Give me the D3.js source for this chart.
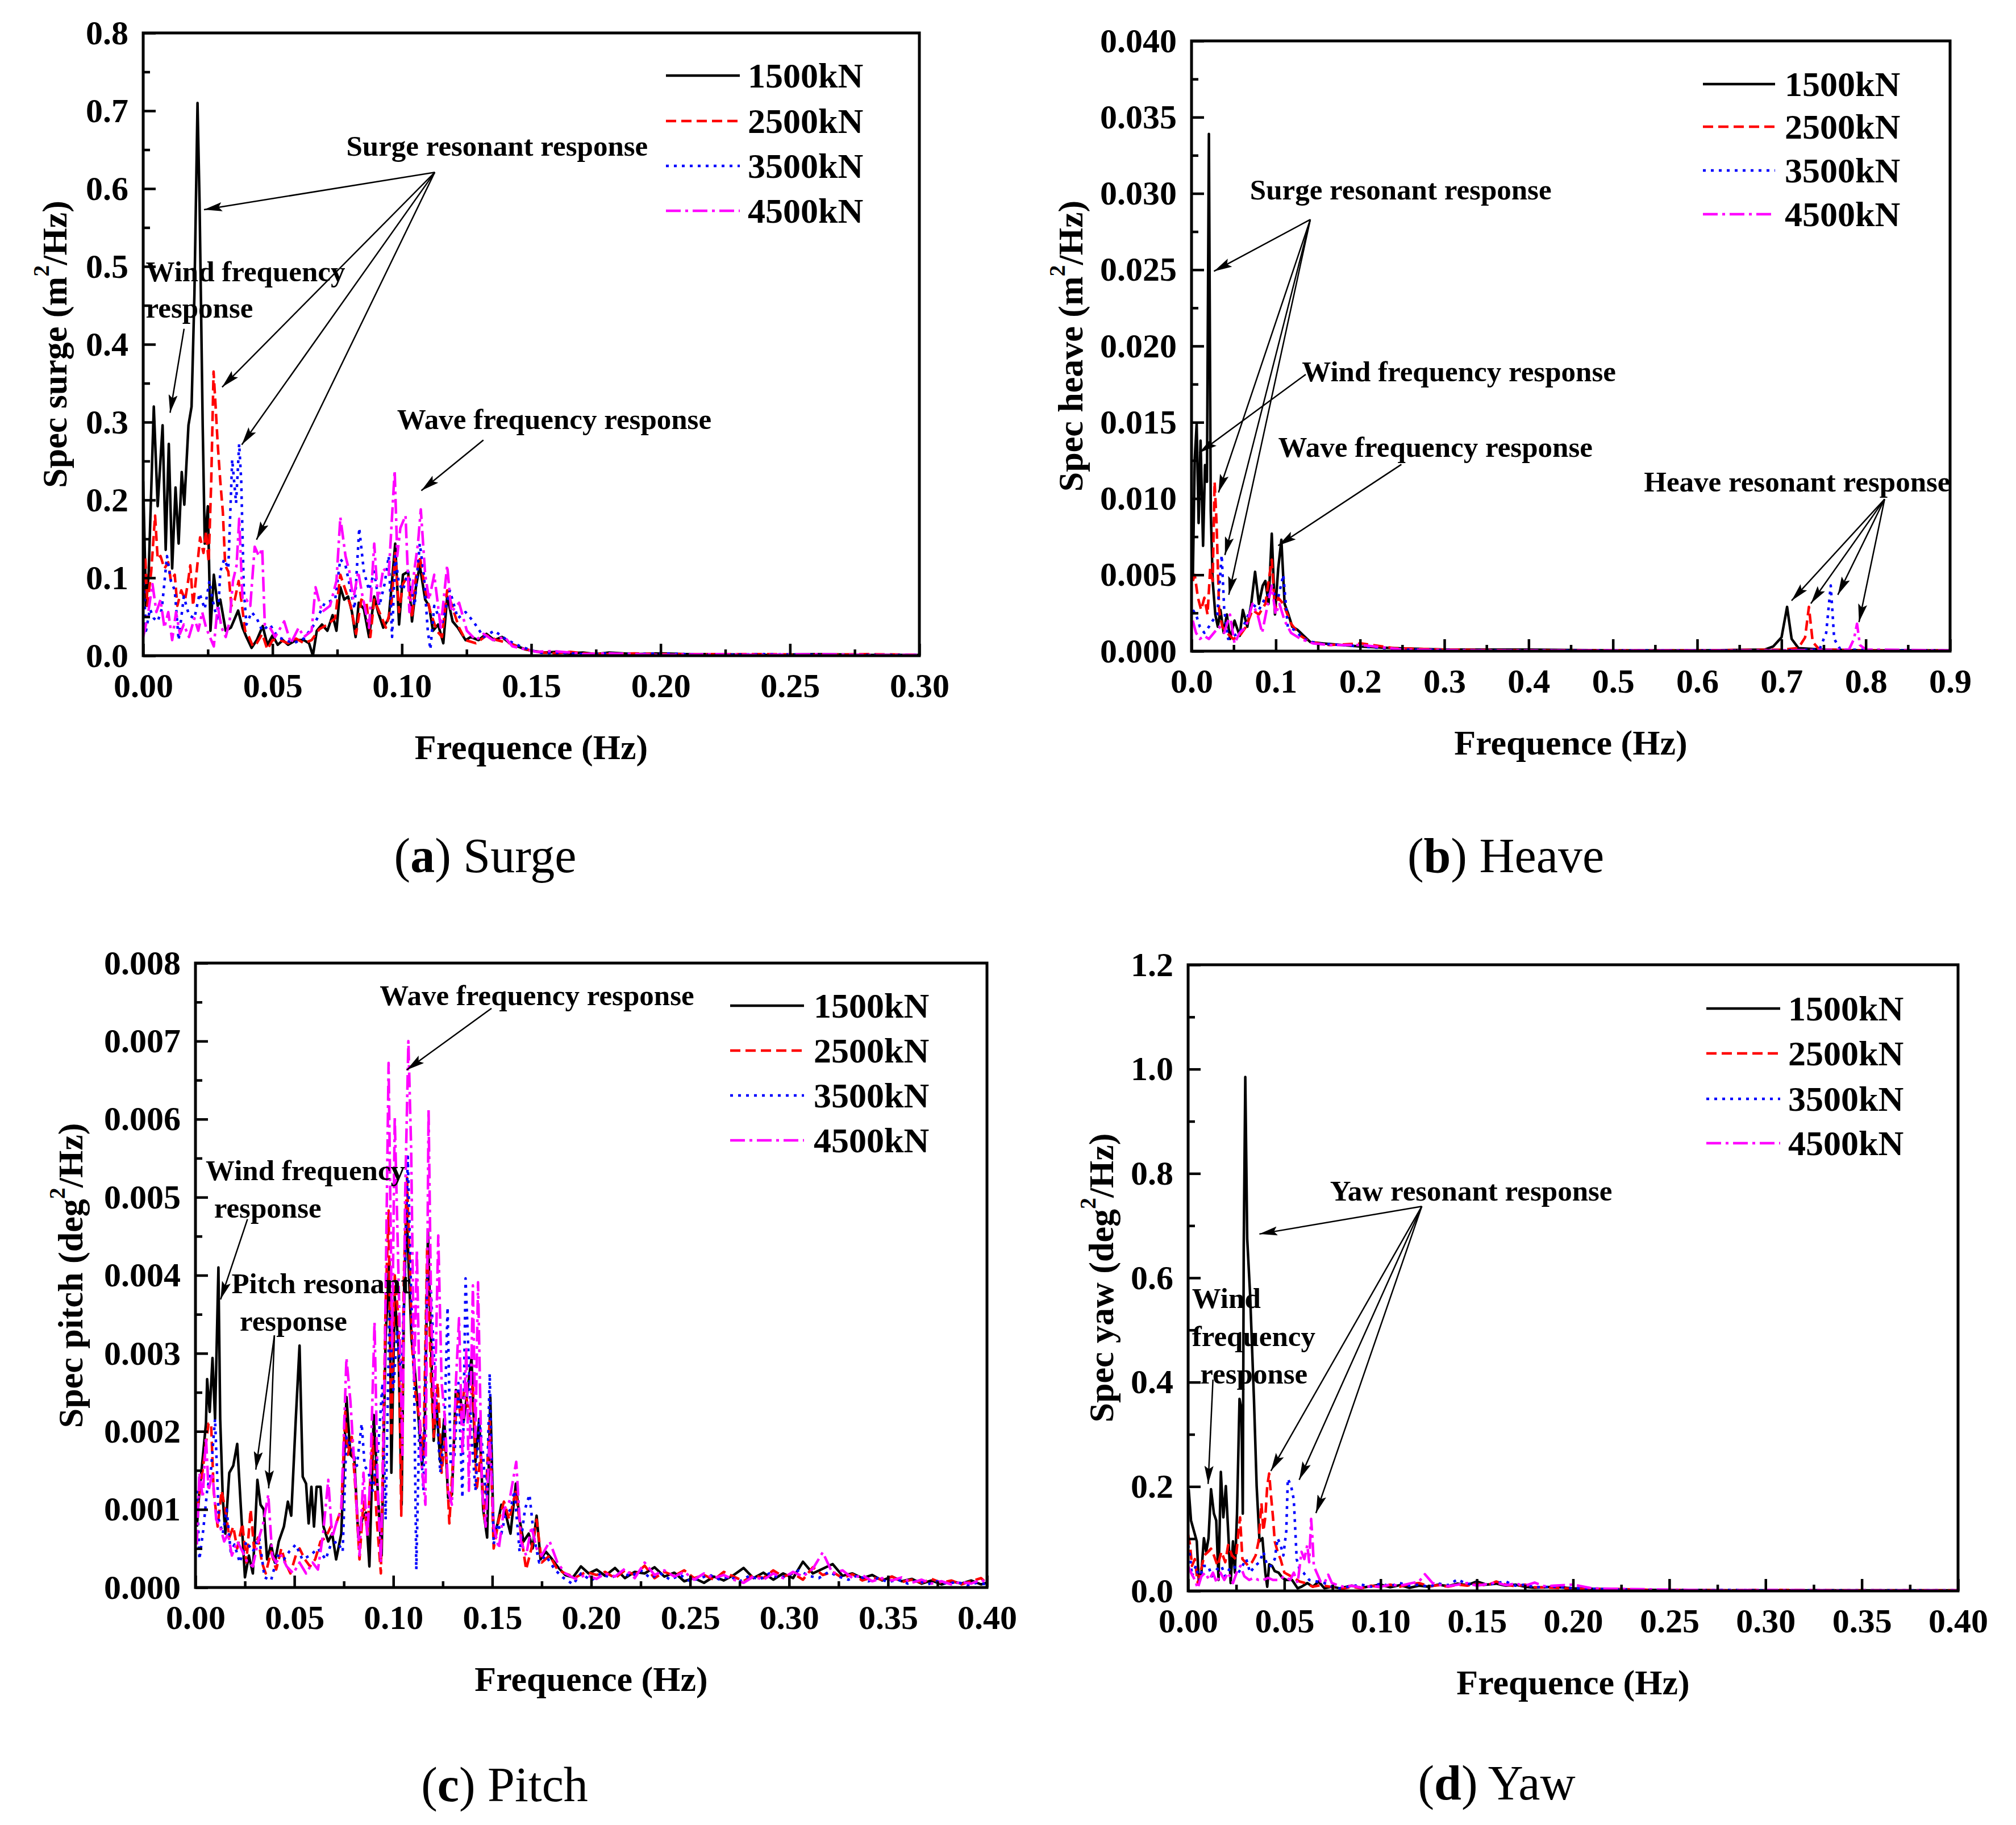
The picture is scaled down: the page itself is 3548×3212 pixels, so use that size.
<!DOCTYPE html>
<html>
<head>
<meta charset="utf-8">
<script src="https://cdn.jsdelivr.net/npm/d3@7"></script>
<style>
html,body{margin:0;padding:0;background:#fff;}
svg{display:block;}
</style>
</head>
<body>
<svg id="chart" width="3548" height="3212"></svg>
<script>
// ---------------- DATA ----------------
const loadLabels = ['1500kN','2500kN','3500kN','4500kN'];

const surgeXTicks = [0,0.05,0.10,0.15,0.20,0.25,0.30];
const surgeYTicks = [0,0.1,0.2,0.3,0.4,0.5,0.6,0.7,0.8];
const heaveXTicks = [0,0.1,0.2,0.3,0.4,0.5,0.6,0.7,0.8,0.9];
const heaveYTicks = [0,0.005,0.010,0.015,0.020,0.025,0.030,0.035,0.040];
const pitchXTicks = [0,0.05,0.10,0.15,0.20,0.25,0.30,0.35,0.40];
const pitchYTicks = [0,0.001,0.002,0.003,0.004,0.005,0.006,0.007,0.008];
const yawXTicks = [0,0.05,0.10,0.15,0.20,0.25,0.30,0.35,0.40];
const yawYTicks = [0,0.2,0.4,0.6,0.8,1.0,1.2];

// Surge spectra [Hz, m^2/Hz]
const surge1500 = [[0,0.224],[0.0011,0.064],[0.0021,0.104],[0.0041,0.32],[0.0056,0.192],[0.0075,0.296],[0.0087,0.136],[0.0099,0.272],[0.0112,0.112],[0.0125,0.216],[0.0137,0.144],[0.0149,0.236],[0.0159,0.194],[0.0175,0.296],[0.0187,0.32],[0.0198,0.464],[0.021,0.71],[0.0218,0.58],[0.023,0.296],[0.0238,0.144],[0.025,0.192],[0.026,0.032],[0.0273,0.104],[0.0288,0.064],[0.0298,0.072],[0.0319,0.032],[0.0339,0.036],[0.0367,0.058],[0.0384,0.036],[0.0399,0.024],[0.0419,0.01],[0.0439,0.02],[0.0462,0.038],[0.048,0.014],[0.05,0.026],[0.052,0.014],[0.054,0.02],[0.056,0.014],[0.0591,0.02],[0.0621,0.02],[0.0641,0.016],[0.0656,0.0],[0.0671,0.032],[0.0691,0.04],[0.0712,0.032],[0.0732,0.052],[0.0747,0.032],[0.0762,0.088],[0.0777,0.072],[0.0792,0.076],[0.0807,0.056],[0.0821,0.024],[0.0833,0.068],[0.0853,0.06],[0.0873,0.024],[0.0893,0.076],[0.0908,0.056],[0.0928,0.036],[0.0949,0.048],[0.0964,0.104],[0.0974,0.144],[0.0989,0.04],[0.1004,0.104],[0.1024,0.108],[0.1039,0.044],[0.1054,0.088],[0.1069,0.116],[0.109,0.072],[0.1105,0.064],[0.112,0.032],[0.114,0.04],[0.116,0.016],[0.1175,0.076],[0.1196,0.044],[0.1216,0.036],[0.1246,0.02],[0.1266,0.024],[0.1296,0.02],[0.1327,0.028],[0.1357,0.02],[0.1387,0.024],[0.1417,0.016],[0.1447,0.012],[0.1478,0.008],[0.1508,0.006],[0.1548,0.004],[0.16,0.005],[0.165,0.003],[0.17,0.004],[0.175,0.002],[0.18,0.004],[0.19,0.002],[0.2,0.003],[0.21,0.002],[0.22,0.002],[0.24,0.001],[0.26,0.002],[0.28,0.001],[0.3,0.001]];
const surge2500 = [[0,0.072],[0.0008,0.128],[0.0016,0.064],[0.0031,0.108],[0.0046,0.18],[0.0056,0.124],[0.0067,0.128],[0.0082,0.112],[0.0097,0.12],[0.0107,0.096],[0.0122,0.104],[0.0132,0.064],[0.0147,0.084],[0.0162,0.072],[0.0172,0.092],[0.0182,0.116],[0.0193,0.064],[0.0208,0.112],[0.022,0.152],[0.0233,0.132],[0.0243,0.16],[0.0253,0.12],[0.0263,0.224],[0.0272,0.365],[0.028,0.32],[0.0288,0.272],[0.0298,0.224],[0.0308,0.184],[0.0317,0.116],[0.0329,0.108],[0.0341,0.064],[0.0354,0.072],[0.0369,0.096],[0.0379,0.072],[0.0394,0.032],[0.0409,0.024],[0.0424,0.012],[0.0439,0.016],[0.046,0.028],[0.048,0.008],[0.05,0.02],[0.053,0.02],[0.056,0.016],[0.0591,0.022],[0.0621,0.016],[0.0651,0.02],[0.0681,0.034],[0.0712,0.04],[0.0742,0.048],[0.0762,0.104],[0.0782,0.084],[0.0802,0.064],[0.0823,0.028],[0.0843,0.072],[0.0863,0.068],[0.0878,0.024],[0.0893,0.072],[0.0913,0.056],[0.0938,0.036],[0.0959,0.064],[0.0974,0.132],[0.0989,0.056],[0.1004,0.092],[0.1024,0.104],[0.1039,0.048],[0.1054,0.1],[0.1069,0.128],[0.109,0.084],[0.111,0.056],[0.1135,0.032],[0.1155,0.024],[0.1175,0.084],[0.1201,0.056],[0.1221,0.036],[0.1246,0.02],[0.1286,0.016],[0.1327,0.026],[0.1367,0.02],[0.1417,0.016],[0.1458,0.01],[0.1508,0.006],[0.155,0.004],[0.16,0.003],[0.165,0.005],[0.17,0.003],[0.18,0.002],[0.19,0.003],[0.2,0.002],[0.22,0.002],[0.24,0.002],[0.26,0.001],[0.28,0.002],[0.3,0.001]];
const surge3500 = [[0,0.104],[0.0011,0.032],[0.0026,0.06],[0.0041,0.048],[0.0056,0.044],[0.0072,0.06],[0.0092,0.128],[0.0107,0.096],[0.0122,0.084],[0.0137,0.02],[0.0157,0.076],[0.0177,0.052],[0.0198,0.048],[0.0218,0.08],[0.0238,0.06],[0.0256,0.096],[0.0268,0.072],[0.0288,0.044],[0.0298,0.108],[0.0313,0.124],[0.0329,0.112],[0.0344,0.252],[0.0359,0.196],[0.0371,0.272],[0.0379,0.224],[0.0389,0.084],[0.0399,0.04],[0.0419,0.056],[0.0439,0.048],[0.046,0.032],[0.049,0.04],[0.052,0.024],[0.055,0.02],[0.0581,0.016],[0.0621,0.022],[0.0661,0.04],[0.0702,0.068],[0.0742,0.072],[0.0762,0.124],[0.0782,0.116],[0.0802,0.084],[0.0817,0.06],[0.0835,0.164],[0.0853,0.108],[0.0873,0.084],[0.0893,0.108],[0.0913,0.064],[0.0933,0.092],[0.0949,0.128],[0.0962,0.024],[0.0974,0.128],[0.0989,0.092],[0.1004,0.084],[0.1024,0.108],[0.1049,0.064],[0.1069,0.144],[0.1085,0.104],[0.11,0.032],[0.111,0.008],[0.1125,0.064],[0.1155,0.04],[0.1185,0.084],[0.1216,0.048],[0.1246,0.056],[0.1276,0.044],[0.1316,0.024],[0.1357,0.032],[0.1407,0.02],[0.1458,0.012],[0.1508,0.006],[0.155,0.003],[0.16,0.004],[0.17,0.002],[0.18,0.003],[0.19,0.002],[0.2,0.003],[0.22,0.001],[0.24,0.002],[0.26,0.001],[0.28,0.001],[0.3,0.001]];
const surge4500 = [[0,0.024],[0.0016,0.048],[0.0036,0.092],[0.0051,0.056],[0.0067,0.072],[0.0082,0.036],[0.0097,0.056],[0.0112,0.02],[0.0127,0.056],[0.0142,0.028],[0.0157,0.04],[0.0177,0.024],[0.0198,0.048],[0.0213,0.032],[0.0228,0.056],[0.0243,0.036],[0.0258,0.024],[0.0273,0.012],[0.0288,0.064],[0.0303,0.036],[0.0319,0.024],[0.0334,0.044],[0.0347,0.096],[0.0361,0.116],[0.0371,0.176],[0.0384,0.072],[0.0399,0.072],[0.0414,0.064],[0.0431,0.14],[0.0447,0.128],[0.046,0.138],[0.047,0.04],[0.049,0.036],[0.051,0.024],[0.0545,0.044],[0.0571,0.016],[0.0601,0.036],[0.0621,0.024],[0.0651,0.032],[0.0666,0.088],[0.0691,0.056],[0.0722,0.064],[0.0747,0.096],[0.0762,0.178],[0.0782,0.128],[0.0797,0.108],[0.0812,0.072],[0.0831,0.108],[0.0848,0.076],[0.0873,0.036],[0.0893,0.144],[0.0908,0.068],[0.0928,0.112],[0.0949,0.104],[0.0972,0.238],[0.0982,0.128],[0.0994,0.164],[0.1014,0.18],[0.1029,0.056],[0.1049,0.112],[0.1062,0.144],[0.1073,0.188],[0.109,0.104],[0.1105,0.072],[0.1125,0.104],[0.115,0.036],[0.1175,0.116],[0.1191,0.056],[0.1221,0.068],[0.1251,0.032],[0.1286,0.02],[0.1316,0.028],[0.1352,0.02],[0.1397,0.024],[0.1427,0.012],[0.1478,0.008],[0.152,0.005],[0.158,0.006],[0.165,0.004],[0.17,0.002],[0.18,0.003],[0.19,0.002],[0.2,0.001],[0.22,0.002],[0.24,0.001],[0.26,0.002],[0.28,0.001],[0.3,0.001]];

// Heave spectra [Hz, m^2/Hz]
const heave1500 = [[0.0015,0.0046],[0.0038,0.0126],[0.0061,0.0149],[0.0084,0.0084],[0.0107,0.0138],[0.0137,0.0069],[0.016,0.0122],[0.0183,0.0111],[0.0206,0.0339],[0.0228,0.0092],[0.0251,0.0046],[0.0282,0.0024],[0.0312,0.0016],[0.0343,0.0027],[0.0381,0.0012],[0.0419,0.0024],[0.0457,0.0008],[0.051,0.002],[0.0571,0.001],[0.0609,0.0027],[0.0662,0.0016],[0.0708,0.0031],[0.0754,0.0052],[0.0799,0.0031],[0.0845,0.0043],[0.0876,0.0046],[0.0914,0.0031],[0.0952,0.0077],[0.099,0.0024],[0.1028,0.0054],[0.1066,0.0073],[0.1104,0.0031],[0.115,0.0024],[0.1195,0.0016],[0.1256,0.0014],[0.1332,0.001],[0.1409,0.0006],[0.1561,0.0005],[0.1789,0.0004],[0.2018,0.0003],[0.2398,0.0002],[0.3,0.0001],[0.4,0.0001],[0.5,0.00005],[0.6,0.00005],[0.68,0.0001],[0.69,0.0003],[0.7,0.0009],[0.7066,0.0029],[0.712,0.0008],[0.72,0.0002],[0.75,0.0001],[0.8,0.00005],[0.9,0.00005]];
const heave2500 = [[0.0015,0.0046],[0.0038,0.005],[0.0076,0.0035],[0.0114,0.0027],[0.0152,0.0035],[0.019,0.0024],[0.0221,0.0054],[0.0251,0.0046],[0.0274,0.0111],[0.0297,0.0084],[0.0327,0.0027],[0.0365,0.0016],[0.0419,0.0012],[0.0495,0.0008],[0.0571,0.001],[0.0647,0.0016],[0.0723,0.0027],[0.0799,0.0024],[0.0876,0.0031],[0.0952,0.006],[0.099,0.0027],[0.1028,0.0035],[0.1089,0.0031],[0.118,0.0018],[0.1294,0.001],[0.1409,0.0006],[0.1637,0.0004],[0.2018,0.0005],[0.2398,0.0002],[0.3,0.0001],[0.4,0.00005],[0.5,0.00005],[0.6,0.00005],[0.7,0.0001],[0.72,0.0002],[0.728,0.0009],[0.7325,0.0029],[0.737,0.0006],[0.745,0.0001],[0.8,0.00005],[0.9,0.00005]];
const heave3500 = [[0.0015,0.0027],[0.0053,0.0024],[0.0099,0.0016],[0.0152,0.0012],[0.0206,0.0016],[0.0251,0.002],[0.0305,0.0024],[0.0358,0.0063],[0.0388,0.0027],[0.0434,0.0008],[0.0495,0.001],[0.0571,0.0012],[0.0647,0.002],[0.0723,0.0031],[0.0799,0.0027],[0.0876,0.0035],[0.0952,0.0039],[0.1028,0.0035],[0.1089,0.005],[0.1142,0.0016],[0.1218,0.0014],[0.1332,0.0008],[0.1485,0.0005],[0.1789,0.0004],[0.2018,0.0003],[0.25,0.0001],[0.35,0.00005],[0.5,0.00005],[0.7,0.00005],[0.745,0.0001],[0.753,0.0012],[0.7584,0.0043],[0.7625,0.0008],[0.77,0.0001],[0.85,0.00005],[0.9,0.00005]];
const heave4500 = [[0.0015,0.002],[0.0053,0.0012],[0.0099,0.0008],[0.0152,0.001],[0.0206,0.0008],[0.0266,0.0012],[0.0327,0.0016],[0.0388,0.0012],[0.0457,0.0024],[0.051,0.0005],[0.0571,0.0012],[0.0647,0.0016],[0.0723,0.0031],[0.0784,0.0024],[0.0838,0.0012],[0.0891,0.0027],[0.0952,0.0043],[0.0997,0.0024],[0.1043,0.0031],[0.1104,0.002],[0.118,0.0012],[0.1294,0.0008],[0.1447,0.0005],[0.1637,0.0004],[0.2018,0.0004],[0.25,0.0001],[0.35,0.00005],[0.5,0.00005],[0.7,0.00005],[0.78,0.0001],[0.786,0.0008],[0.7896,0.0018],[0.793,0.0004],[0.8,0.0001],[0.9,0.00005]];

// Pitch spectra [Hz, deg^2/Hz]
const pitch1500 = [[0.0007,0.00078],[0.002,0.00124],[0.0033,0.00156],[0.0053,0.0021],[0.0059,0.00267],[0.0072,0.00225],[0.0086,0.00294],[0.0099,0.00216],[0.0116,0.0041],[0.0125,0.00216],[0.0138,0.00115],[0.0151,0.00069],[0.0171,0.00147],[0.0191,0.00156],[0.0211,0.00184],[0.023,0.001],[0.025,0.00013],[0.027,0.00041],[0.029,0.00018],[0.0313,0.00138],[0.0329,0.00106],[0.0345,0.001],[0.0362,0.00036],[0.0382,0.00055],[0.0401,0.00032],[0.0421,0.00059],[0.0447,0.00078],[0.0467,0.0011],[0.0484,0.00092],[0.0507,0.00216],[0.0526,0.0031],[0.0542,0.00142],[0.0559,0.00133],[0.0572,0.00082],[0.0586,0.00129],[0.0599,0.00078],[0.0612,0.00129],[0.0632,0.00129],[0.0647,0.00078],[0.0671,0.00059],[0.0691,0.00069],[0.0711,0.00036],[0.0737,0.00069],[0.0763,0.00244],[0.0783,0.0017],[0.0803,0.00165],[0.0823,0.00064],[0.0842,0.00087],[0.0862,0.00096],[0.0879,0.00027],[0.0901,0.00221],[0.0921,0.00124],[0.0941,0.00041],[0.0961,0.00322],[0.098,0.00419],[0.099,0.00147],[0.1007,0.00373],[0.1026,0.00308],[0.1042,0.00106],[0.1053,0.0035],[0.1066,0.00493],[0.1079,0.004],[0.1092,0.00317],[0.1105,0.0029],[0.1125,0.00225],[0.1145,0.00156],[0.1158,0.00193],[0.1175,0.00456],[0.1191,0.00308],[0.1204,0.00188],[0.1217,0.00239],[0.1237,0.00161],[0.1257,0.00216],[0.1277,0.00115],[0.1296,0.00119],[0.1316,0.00253],[0.1336,0.00248],[0.1355,0.00212],[0.1375,0.00253],[0.1395,0.00294],[0.1415,0.00161],[0.1434,0.00216],[0.1454,0.001],[0.1474,0.00064],[0.149,0.00244],[0.1507,0.00064],[0.1527,0.00082],[0.1546,0.00106],[0.1566,0.00096],[0.1592,0.00069],[0.1619,0.00133],[0.1638,0.00087],[0.1658,0.00059],[0.1684,0.00069],[0.1704,0.0005],[0.1724,0.00092],[0.1744,0.00036],[0.177,0.00046],[0.1803,0.00036],[0.1829,0.00027],[0.1869,0.00016],[0.1908,0.00013],[0.1948,0.00027],[0.1987,0.00018],[0.2027,0.00023],[0.207,0.00015],[0.212,0.00025],[0.217,0.00012],[0.222,0.0002],[0.227,0.00018],[0.232,0.00026],[0.237,0.00014],[0.242,0.00019],[0.247,0.00008],[0.252,0.00012],[0.257,0.00006],[0.262,0.00014],[0.267,0.00009],[0.272,0.00016],[0.277,0.00025],[0.282,0.00012],[0.287,0.00019],[0.292,0.0001],[0.297,0.00018],[0.302,0.00012],[0.307,0.00033],[0.312,0.00018],[0.317,0.00024],[0.322,0.0003],[0.327,0.00015],[0.332,0.00018],[0.337,0.00012],[0.342,0.00016],[0.347,0.00009],[0.352,0.00014],[0.357,0.00008],[0.362,0.00011],[0.367,0.00005],[0.372,0.00009],[0.377,0.00004],[0.382,0.00008],[0.387,0.00005],[0.392,0.00009],[0.397,0.00004],[0.4,0.00006]];
const pitch2500 = [[0.0007,0.001],[0.0026,0.00129],[0.0046,0.0017],[0.0066,0.0021],[0.0079,0.0021],[0.0092,0.00124],[0.0112,0.00078],[0.0132,0.00124],[0.0151,0.001],[0.0171,0.00064],[0.0191,0.00078],[0.0211,0.0005],[0.0237,0.00082],[0.0257,0.00032],[0.0279,0.001],[0.0296,0.0005],[0.0316,0.00064],[0.0336,0.00032],[0.0355,0.00018],[0.0382,0.00046],[0.0408,0.00023],[0.0434,0.0005],[0.0454,0.00032],[0.048,0.00018],[0.0507,0.00041],[0.0526,0.0005],[0.0553,0.00036],[0.0579,0.00027],[0.0605,0.00036],[0.0632,0.00059],[0.0658,0.00064],[0.0684,0.00078],[0.0711,0.00082],[0.0737,0.001],[0.0757,0.00225],[0.077,0.0017],[0.079,0.00193],[0.0809,0.00124],[0.0829,0.00036],[0.0849,0.0011],[0.0869,0.00069],[0.0895,0.00193],[0.0915,0.00092],[0.0937,0.00018],[0.0961,0.00364],[0.0976,0.00483],[0.099,0.00193],[0.1007,0.004],[0.1026,0.00345],[0.104,0.00092],[0.1053,0.004],[0.1069,0.00525],[0.1082,0.00423],[0.1095,0.00308],[0.1112,0.00248],[0.1132,0.00216],[0.1152,0.0017],[0.1171,0.00437],[0.1191,0.00262],[0.1204,0.00193],[0.1224,0.00262],[0.1244,0.00147],[0.1263,0.00193],[0.1283,0.00082],[0.1303,0.0017],[0.1323,0.00248],[0.1342,0.00216],[0.1362,0.00262],[0.1382,0.00216],[0.1402,0.00262],[0.1421,0.00124],[0.1441,0.0017],[0.1461,0.00087],[0.1487,0.00216],[0.1507,0.0005],[0.1533,0.00087],[0.1559,0.0011],[0.1586,0.00087],[0.1619,0.00124],[0.1645,0.00069],[0.1671,0.00023],[0.1698,0.0005],[0.1724,0.00087],[0.175,0.00032],[0.179,0.00041],[0.1829,0.00023],[0.1869,0.00018],[0.1921,0.00013],[0.1974,0.0002],[0.2027,0.00016],[0.207,0.0002],[0.212,0.00012],[0.217,0.00022],[0.222,0.00016],[0.227,0.00028],[0.232,0.00012],[0.237,0.0002],[0.242,0.00015],[0.247,0.00022],[0.252,0.00012],[0.257,0.00016],[0.262,0.0001],[0.267,0.0002],[0.272,0.00014],[0.277,0.00008],[0.282,0.00016],[0.287,0.00012],[0.292,0.00022],[0.297,0.00014],[0.302,0.00018],[0.307,0.0001],[0.312,0.00026],[0.317,0.00016],[0.322,0.0002],[0.327,0.00012],[0.332,0.00017],[0.337,0.00009],[0.342,0.00013],[0.347,0.0001],[0.352,0.00014],[0.357,0.00007],[0.362,0.0001],[0.367,0.00006],[0.372,0.00011],[0.377,0.00006],[0.382,0.00009],[0.387,0.00004],[0.392,0.00008],[0.397,0.00012],[0.4,0.00005]];
const pitch3500 = [[0.0007,0.00124],[0.002,0.00036],[0.0039,0.00073],[0.0059,0.00124],[0.0079,0.00152],[0.0099,0.00216],[0.0118,0.00087],[0.0138,0.00069],[0.0158,0.001],[0.0178,0.00046],[0.0197,0.00055],[0.0224,0.00032],[0.0257,0.00059],[0.029,0.00046],[0.0322,0.00064],[0.0349,0.00013],[0.0382,0.00009],[0.0415,0.00041],[0.0447,0.00036],[0.0474,0.00046],[0.0507,0.00055],[0.054,0.00036],[0.0579,0.00041],[0.0619,0.0005],[0.0658,0.00036],[0.0684,0.00055],[0.0717,0.00059],[0.0744,0.00046],[0.0763,0.00193],[0.079,0.00179],[0.0816,0.00156],[0.084,0.0021],[0.0855,0.00156],[0.0875,0.00147],[0.0895,0.00124],[0.0921,0.0017],[0.0945,0.00262],[0.0961,0.00087],[0.098,0.00354],[0.1,0.00253],[0.102,0.00331],[0.104,0.00262],[0.1059,0.004],[0.1073,0.00552],[0.109,0.00377],[0.1105,0.00262],[0.1116,0.00023],[0.1132,0.00216],[0.1152,0.00124],[0.1171,0.004],[0.1191,0.00377],[0.1211,0.00262],[0.1237,0.00147],[0.1257,0.00193],[0.1274,0.00359],[0.129,0.00156],[0.1309,0.0017],[0.1329,0.00262],[0.1349,0.00115],[0.1365,0.00396],[0.1382,0.00285],[0.1395,0.00193],[0.1415,0.00124],[0.1434,0.00216],[0.1454,0.0017],[0.1471,0.001],[0.1487,0.00274],[0.1507,0.00055],[0.1527,0.00082],[0.1546,0.00069],[0.1566,0.00092],[0.1592,0.001],[0.1612,0.00124],[0.1638,0.00046],[0.1665,0.001],[0.1688,0.00119],[0.1711,0.00064],[0.1737,0.00032],[0.177,0.00041],[0.1816,0.00023],[0.1856,0.00013],[0.1908,0.00004],[0.1948,0.00018],[0.2,0.00009],[0.205,0.00018],[0.21,0.00012],[0.215,0.0002],[0.22,0.00014],[0.225,0.00022],[0.23,0.00012],[0.235,0.00018],[0.24,0.0001],[0.245,0.00016],[0.25,0.00008],[0.255,0.00012],[0.26,0.00016],[0.265,0.0001],[0.27,0.00014],[0.275,0.00008],[0.28,0.00015],[0.285,0.0001],[0.29,0.00018],[0.295,0.00012],[0.3,0.00016],[0.305,0.00022],[0.31,0.00015],[0.315,0.00012],[0.32,0.0002],[0.325,0.00014],[0.33,0.0001],[0.335,0.00016],[0.34,0.00008],[0.345,0.00012],[0.35,0.00007],[0.355,0.0001],[0.36,0.00005],[0.365,0.00009],[0.37,0.00004],[0.375,0.00008],[0.38,0.00005],[0.385,0.00007],[0.39,0.00003],[0.395,0.00006],[0.4,0.00004]];
const pitch4500 = [[0.0007,0.00055],[0.002,0.00147],[0.0037,0.00115],[0.0053,0.00193],[0.0066,0.00124],[0.0086,0.00147],[0.0105,0.00087],[0.0125,0.00078],[0.0145,0.00059],[0.0165,0.00069],[0.0184,0.00041],[0.0211,0.00059],[0.023,0.0005],[0.0263,0.00032],[0.029,0.00027],[0.0316,0.00059],[0.0342,0.00082],[0.0368,0.00119],[0.0388,0.00041],[0.0408,0.00032],[0.0434,0.00041],[0.0461,0.00027],[0.0494,0.00018],[0.0526,0.00032],[0.0559,0.00018],[0.0592,0.00032],[0.0619,0.00023],[0.0645,0.00069],[0.0671,0.00138],[0.0691,0.00064],[0.0717,0.00087],[0.0737,0.001],[0.0763,0.00294],[0.0783,0.00239],[0.0803,0.00156],[0.0829,0.00041],[0.0849,0.00147],[0.0869,0.00064],[0.0884,0.00147],[0.0905,0.0034],[0.0921,0.00124],[0.0937,0.00032],[0.0954,0.00239],[0.0976,0.00672],[0.0994,0.00308],[0.1007,0.00603],[0.1026,0.004],[0.1046,0.0017],[0.1059,0.00493],[0.1076,0.007],[0.109,0.00562],[0.1105,0.00262],[0.1119,0.00433],[0.1138,0.0017],[0.1162,0.00106],[0.1178,0.00612],[0.1191,0.00354],[0.1208,0.00216],[0.1227,0.00451],[0.1244,0.00262],[0.1261,0.00216],[0.1277,0.00124],[0.1296,0.00106],[0.1316,0.00262],[0.1332,0.00345],[0.1349,0.0017],[0.1369,0.00308],[0.1382,0.00124],[0.1402,0.00387],[0.1415,0.00193],[0.1428,0.00391],[0.1448,0.00124],[0.1467,0.00078],[0.1487,0.00193],[0.1507,0.00078],[0.1533,0.0005],[0.1559,0.001],[0.1586,0.0011],[0.1621,0.00161],[0.1645,0.00059],[0.1671,0.00041],[0.1698,0.00078],[0.1724,0.0005],[0.175,0.00041],[0.179,0.00059],[0.1829,0.00032],[0.1869,0.00018],[0.1921,0.00011],[0.1974,0.00016],[0.2027,0.00011],[0.207,0.00018],[0.212,0.00014],[0.217,0.00024],[0.222,0.00012],[0.227,0.00032],[0.232,0.00016],[0.237,0.00022],[0.242,0.00014],[0.247,0.0002],[0.252,0.0001],[0.257,0.00018],[0.262,0.00012],[0.267,0.00016],[0.272,0.0001],[0.277,0.00006],[0.282,0.00014],[0.287,0.0001],[0.292,0.00018],[0.297,0.00012],[0.302,0.0002],[0.307,0.00014],[0.312,0.00024],[0.317,0.00045],[0.322,0.00018],[0.327,0.00022],[0.332,0.00012],[0.337,0.00016],[0.342,0.00008],[0.347,0.00012],[0.352,0.00009],[0.357,0.00013],[0.362,0.00006],[0.367,0.0001],[0.372,0.00005],[0.377,0.00008],[0.382,0.00004],[0.387,0.00007],[0.392,0.00005],[0.397,0.0001],[0.4,0.00006]];

// Yaw spectra [Hz, deg^2/Hz]
const yaw1500 = [[0.0003,0.195],[0.0015,0.135],[0.003,0.115],[0.0045,0.095],[0.0056,0.015],[0.0069,0.035],[0.0082,0.101],[0.0094,0.075],[0.0106,0.101],[0.0119,0.195],[0.0134,0.148],[0.0146,0.135],[0.0158,0.021],[0.017,0.228],[0.0183,0.141],[0.0196,0.201],[0.0208,0.115],[0.0221,0.015],[0.0233,0.095],[0.0243,0.035],[0.0254,0.148],[0.0267,0.368],[0.0277,0.348],[0.0284,0.148],[0.0289,0.661],[0.0297,0.985],[0.0307,0.675],[0.0322,0.568],[0.0342,0.368],[0.0356,0.201],[0.0371,0.095],[0.0386,0.101],[0.0401,0.035],[0.0411,0.008],[0.0421,0.051],[0.0436,0.048],[0.045,0.038],[0.047,0.035],[0.049,0.025],[0.051,0.021],[0.054,0.021],[0.0569,0.005],[0.0589,0.008],[0.0619,0.015],[0.0648,0.008],[0.0678,0.018],[0.0708,0.005],[0.0747,0.008],[0.0787,0.005],[0.085,0.01],[0.09,0.006],[0.095,0.009],[0.1,0.012],[0.105,0.007],[0.11,0.011],[0.115,0.006],[0.12,0.01],[0.125,0.008],[0.13,0.012],[0.135,0.009],[0.14,0.014],[0.145,0.011],[0.15,0.018],[0.155,0.012],[0.16,0.014],[0.165,0.01],[0.17,0.012],[0.175,0.008],[0.18,0.006],[0.19,0.008],[0.2,0.005],[0.21,0.004],[0.22,0.003],[0.24,0.002],[0.26,0.002],[0.28,0.001],[0.3,0.001],[0.34,0.001],[0.4,0.001]];
const yaw2500 = [[0,0.108],[0.001,0.088],[0.002,0.048],[0.0035,0.061],[0.005,0.015],[0.0064,0.035],[0.0084,0.068],[0.0104,0.075],[0.0119,0.081],[0.0134,0.068],[0.0153,0.048],[0.0173,0.075],[0.0193,0.055],[0.0208,0.088],[0.0228,0.068],[0.0248,0.061],[0.0262,0.115],[0.027,0.141],[0.0282,0.061],[0.0297,0.055],[0.0312,0.048],[0.0332,0.055],[0.0351,0.068],[0.0366,0.095],[0.0381,0.168],[0.0391,0.115],[0.0401,0.141],[0.0411,0.201],[0.0421,0.225],[0.0431,0.181],[0.0441,0.141],[0.045,0.095],[0.0465,0.075],[0.048,0.061],[0.05,0.035],[0.052,0.031],[0.0549,0.025],[0.0579,0.018],[0.0609,0.015],[0.0648,0.008],[0.0688,0.011],[0.0738,0.008],[0.0787,0.003],[0.085,0.008],[0.09,0.005],[0.095,0.01],[0.1,0.007],[0.105,0.012],[0.11,0.008],[0.115,0.013],[0.12,0.015],[0.125,0.009],[0.13,0.011],[0.135,0.008],[0.14,0.012],[0.145,0.01],[0.15,0.014],[0.155,0.01],[0.16,0.018],[0.165,0.012],[0.17,0.009],[0.175,0.012],[0.18,0.007],[0.19,0.006],[0.2,0.004],[0.21,0.003],[0.22,0.004],[0.24,0.002],[0.26,0.002],[0.28,0.001],[0.3,0.002],[0.34,0.001],[0.4,0.001]];
const yaw3500 = [[0,0.088],[0.001,0.068],[0.002,0.028],[0.004,0.048],[0.0059,0.021],[0.0079,0.048],[0.0104,0.048],[0.0124,0.028],[0.0149,0.041],[0.0173,0.048],[0.0193,0.028],[0.0213,0.041],[0.0238,0.048],[0.0262,0.035],[0.0282,0.048],[0.0302,0.061],[0.0322,0.035],[0.0347,0.048],[0.0371,0.055],[0.0391,0.075],[0.0411,0.048],[0.0431,0.048],[0.045,0.061],[0.0465,0.101],[0.048,0.088],[0.0495,0.068],[0.051,0.115],[0.0518,0.215],[0.0535,0.201],[0.0549,0.175],[0.0557,0.115],[0.0564,0.061],[0.0579,0.041],[0.0599,0.035],[0.0629,0.021],[0.0668,0.018],[0.0708,0.015],[0.0747,0.008],[0.0787,0.005],[0.085,0.009],[0.09,0.012],[0.095,0.008],[0.1,0.014],[0.105,0.009],[0.11,0.015],[0.115,0.01],[0.12,0.012],[0.125,0.008],[0.13,0.014],[0.135,0.011],[0.14,0.022],[0.145,0.013],[0.15,0.016],[0.155,0.011],[0.16,0.015],[0.165,0.018],[0.17,0.01],[0.175,0.012],[0.18,0.007],[0.19,0.008],[0.2,0.005],[0.21,0.004],[0.22,0.003],[0.24,0.002],[0.26,0.001],[0.28,0.002],[0.3,0.001],[0.34,0.001],[0.4,0.001]];
const yaw4500 = [[0,0.048],[0.0015,0.035],[0.0035,0.021],[0.005,0.005],[0.0069,0.028],[0.0089,0.035],[0.0109,0.021],[0.0129,0.035],[0.0149,0.015],[0.0168,0.035],[0.0188,0.021],[0.0208,0.035],[0.0233,0.015],[0.0252,0.035],[0.0272,0.048],[0.0292,0.028],[0.0317,0.021],[0.0342,0.025],[0.0366,0.021],[0.0391,0.021],[0.0416,0.025],[0.0441,0.021],[0.047,0.021],[0.05,0.028],[0.053,0.021],[0.0549,0.035],[0.0569,0.015],[0.0589,0.075],[0.0604,0.061],[0.0619,0.088],[0.0629,0.055],[0.0639,0.138],[0.0646,0.101],[0.0653,0.048],[0.0668,0.035],[0.0688,0.018],[0.0708,0.015],[0.0728,0.031],[0.0747,0.015],[0.0777,0.011],[0.0807,0.008],[0.085,0.01],[0.09,0.006],[0.095,0.009],[0.1,0.008],[0.105,0.012],[0.11,0.01],[0.115,0.014],[0.12,0.018],[0.123,0.032],[0.127,0.015],[0.13,0.012],[0.135,0.009],[0.14,0.012],[0.145,0.015],[0.15,0.01],[0.155,0.013],[0.16,0.016],[0.165,0.011],[0.17,0.014],[0.175,0.01],[0.18,0.016],[0.185,0.009],[0.19,0.01],[0.2,0.012],[0.21,0.005],[0.22,0.004],[0.24,0.003],[0.26,0.002],[0.28,0.001],[0.3,0.002],[0.34,0.001],[0.4,0.001]];

// Annotations (data coordinates)
const surgeNotes = [
  {t:'Surge resonant response', x:0.0785, y:0.642},
  {t:'Wind frequency', x:0.001, y:0.481},
  {t:'response', x:0.001, y:0.434},
  {t:'Wave frequency response', x:0.0981, y:0.291}
];
const surgeArrows = [
  [0.1127,0.621,0.0235,0.573],[0.1127,0.621,0.0305,0.345],[0.1127,0.621,0.0381,0.271],[0.1127,0.621,0.0438,0.149],
  [0.0158,0.42,0.0104,0.312],[0.1315,0.277,0.1075,0.212]
];
const heaveNotes = [
  {t:'Surge resonant response', x:0.0693, y:0.02962},
  {t:'Wind frequency response', x:0.131, y:0.01768},
  {t:'Wave frequency response', x:0.1028, y:0.01274},
  {t:'Heave resonant response', x:0.5368, y:0.01046}
];
const heaveArrows = [
  [0.1409,0.02829,0.0266,0.0249],[0.1409,0.02829,0.032,0.0104],[0.1409,0.02829,0.0396,0.0063],[0.1409,0.02829,0.0442,0.0037],
  [0.1355,0.01814,0.0091,0.013],[0.249,0.01224,0.1028,0.00692],
  [0.8223,0.00996,0.7119,0.00331],[0.8223,0.00996,0.7348,0.00312],[0.8223,0.00996,0.7668,0.00369],[0.8223,0.00996,0.7919,0.0019]
];
const pitchNotes = [
  {t:'Wave frequency response', x:0.0931, y:0.00746},
  {t:'Wind frequency', x:0.0052, y:0.00522},
  {t:'response', x:0.0094, y:0.00474},
  {t:'Pitch resonant', x:0.0182, y:0.00377},
  {t:'response', x:0.0224, y:0.00329}
];
const pitchArrows = [
  [0.1496,0.00742,0.1067,0.00663],[0.0263,0.00472,0.0127,0.00369],
  [0.0399,0.00323,0.0305,0.00151],[0.0399,0.00323,0.037,0.00127]
];
const yawNotes = [
  {t:'Yaw resonant response', x:0.0737, y:0.748},
  {t:'Wind', x:0.002, y:0.542},
  {t:'frequency', x:0.002, y:0.4695},
  {t:'response', x:0.0063, y:0.397}
];
const yawArrows = [
  [0.1214,0.737,0.037,0.684],[0.1214,0.737,0.043,0.23],[0.1214,0.737,0.0577,0.213],[0.1214,0.737,0.0664,0.149],
  [0.0129,0.405,0.0104,0.205]
];

// ---------------- LAYOUT / STYLE ----------------
const FONT = "'Liberation Serif','Times New Roman',Times,serif";
const seriesStyle = [
  {color:'#000000', dash:null},
  {color:'#ff0000', dash:'18,9'},
  {color:'#0000ff', dash:'5,9'},
  {color:'#ff00ff', dash:'26,8,5,8'}
];

const panels = [
  {key:'a', name:'Surge', left:252, right:1618, top:58, bottom:1154,
   xDomain:[0,0.3], yDomain:[0,0.8], xTicks:surgeXTicks, yTicks:surgeYTicks, xFmt:'.2f', yFmt:'.1f',
   series:[surge1500,surge2500,surge3500,surge4500], yPre:'Spec surge (m', yPost:'/Hz)',
   yTitle:[96,606], legend:{x0:1172,x1:1302,tx:1316,rows:[133,213,292,371]},
   caption:[854,1535], notes:surgeNotes, arrows:surgeArrows},
  {key:'b', name:'Heave', left:2097, right:3432, top:72, bottom:1146,
   xDomain:[0,0.9], yDomain:[0,0.04], xTicks:heaveXTicks, yTicks:heaveYTicks, xFmt:'.1f', yFmt:'.3f',
   series:[heave1500,heave2500,heave3500,heave4500], yPre:'Spec heave (m', yPost:'/Hz)',
   yTitle:[1884,609], legend:{x0:2997,x1:3124,tx:3141,rows:[148,223,300,377]},
   caption:[2650,1535], notes:heaveNotes, arrows:heaveArrows},
  {key:'c', name:'Pitch', left:344, right:1737, top:1695, bottom:2794,
   xDomain:[0,0.4], yDomain:[0,0.008], xTicks:pitchXTicks, yTicks:pitchYTicks, xFmt:'.2f', yFmt:'.3f',
   series:[pitch1500,pitch2500,pitch3500,pitch4500], yPre:'Spec pitch (deg', yPost:'/Hz)',
   yTitle:[124,2245], legend:{x0:1285,x1:1415,tx:1432,rows:[1770,1849,1928,2007]},
   caption:[888,3170], notes:pitchNotes, arrows:pitchArrows},
  {key:'d', name:'Yaw', left:2091, right:3446, top:1698, bottom:2800,
   xDomain:[0,0.4], yDomain:[0,1.2], xTicks:yawXTicks, yTicks:yawYTicks, xFmt:'.2f', yFmt:'.1f',
   series:[yaw1500,yaw2500,yaw3500,yaw4500], yPre:'Spec yaw (deg', yPost:'/Hz)',
   yTitle:[1938,2249], legend:{x0:3003,x1:3133,tx:3147,rows:[1775,1854,1934,2012]},
   caption:[2634,3167], notes:yawNotes, arrows:yawArrows}
];

// ---------------- DRAW ----------------
const svg = d3.select('#chart');
svg.append('rect').attr('width',3548).attr('height',3212).attr('fill','#fff');
const defs = svg.append('defs');
defs.append('marker').attr('id','arrowhead')
  .attr('markerUnits','userSpaceOnUse')
  .attr('markerWidth',34).attr('markerHeight',16)
  .attr('refX',32).attr('refY',8).attr('orient','auto')
  .append('path').attr('d','M0,0 L32,8 L0,16 L6,8 Z').attr('fill','#000');

panels.forEach((p, pi) => {
  const g = svg.append('g');
  const x = d3.scaleLinear().domain(p.xDomain).range([p.left, p.right]);
  const y = d3.scaleLinear().domain(p.yDomain).range([p.bottom, p.top]);

  defs.append('clipPath').attr('id','clip'+pi)
    .append('rect').attr('x',p.left).attr('y',p.top-4)
    .attr('width',p.right-p.left).attr('height',p.bottom-p.top+4);

  // Series
  const line = d3.line().x(d => x(d[0])).y(d => y(d[1]));
  p.series.forEach((s, i) => {
    const st = seriesStyle[i];
    g.append('path').datum(s)
      .attr('d', line)
      .attr('clip-path','url(#clip'+pi+')')
      .attr('fill','none')
      .attr('stroke', st.color)
      .attr('stroke-width', 4.5)
      .attr('stroke-linejoin','round')
      .attr('stroke-dasharray', st.dash);
  });

  // Axes
  const minorX = d3.pairs(p.xTicks, (a,b) => (a+b)/2);
  const minorY = d3.pairs(p.yTicks, (a,b) => (a+b)/2);

  const xAxis = d3.axisBottom(x).tickValues(p.xTicks).tickFormat(d3.format(p.xFmt))
    .tickSizeInner(-21).tickSizeOuter(0).tickPadding(30);
  const xMinor = d3.axisBottom(x).tickValues(minorX).tickFormat('')
    .tickSizeInner(-11).tickSizeOuter(0);
  const yAxis = d3.axisLeft(y).tickValues(p.yTicks).tickFormat(d3.format(p.yFmt))
    .tickSizeInner(-22).tickSizeOuter(0).tickPadding(26);
  const yMinor = d3.axisLeft(y).tickValues(minorY).tickFormat('')
    .tickSizeInner(-12).tickSizeOuter(0);

  [[xAxis,'x'],[xMinor,'x'],[yAxis,'y'],[yMinor,'y']].forEach(([ax, kind]) => {
    const ag = g.append('g')
      .attr('transform', kind === 'x' ? `translate(0,${p.bottom})` : `translate(${p.left},0)`)
      .call(ax);
    ag.select('.domain').remove();
    ag.selectAll('line').attr('stroke','#000').attr('stroke-width',4.5);
    ag.selectAll('text')
      .attr('font-family', FONT).attr('font-size', 60).attr('font-weight','bold').attr('fill','#000');
  });

  // Frame
  g.append('rect').attr('x',p.left).attr('y',p.top)
    .attr('width',p.right-p.left).attr('height',p.bottom-p.top)
    .attr('fill','none').attr('stroke','#000').attr('stroke-width',5);

  // Axis titles
  g.append('text')
    .attr('x',(p.left+p.right)/2).attr('y',p.bottom+182)
    .attr('text-anchor','middle').attr('font-family',FONT).attr('font-size',62).attr('font-weight','bold')
    .text('Frequence (Hz)');

  const yt = g.append('text')
    .attr('transform',`translate(${p.yTitle[0]},${p.yTitle[1]}) rotate(-90)`)
    .attr('text-anchor','middle').attr('dominant-baseline','central')
    .attr('font-family',FONT).attr('font-size',62).attr('font-weight','bold');
  yt.append('tspan').text(p.yPre);
  yt.append('tspan').attr('font-size',40).attr('dy',-24).text('2');
  yt.append('tspan').attr('dy',24).text(p.yPost);

  // Legend
  loadLabels.forEach((lab, i) => {
    const st = seriesStyle[i];
    const ry = p.legend.rows[i];
    g.append('line').attr('x1',p.legend.x0).attr('x2',p.legend.x1).attr('y1',ry).attr('y2',ry)
      .attr('stroke',st.color).attr('stroke-width',4.5).attr('stroke-dasharray',st.dash);
    g.append('text').attr('x',p.legend.tx).attr('y',ry+21)
      .attr('font-family',FONT).attr('font-size',62).attr('font-weight','bold').text(lab);
  });

  // Annotation arrows
  p.arrows.forEach(a => {
    g.append('line')
      .attr('x1',x(a[0])).attr('y1',y(a[1])).attr('x2',x(a[2])).attr('y2',y(a[3]))
      .attr('stroke','#000').attr('stroke-width',2.5).attr('marker-end','url(#arrowhead)');
  });
  // Annotation texts
  p.notes.forEach(n => {
    g.append('text').attr('x',x(n.x)).attr('y',y(n.y))
      .attr('font-family',FONT).attr('font-size',51).attr('font-weight','bold').text(n.t);
  });

  // Caption
  const cap = svg.append('text').attr('x',p.caption[0]).attr('y',p.caption[1])
    .attr('text-anchor','middle').attr('font-family',FONT).attr('font-size',86);
  cap.append('tspan').text('(');
  cap.append('tspan').attr('font-weight','bold').text(p.key);
  cap.append('tspan').text(') ' + p.name);
});
</script>
</body>
</html>
